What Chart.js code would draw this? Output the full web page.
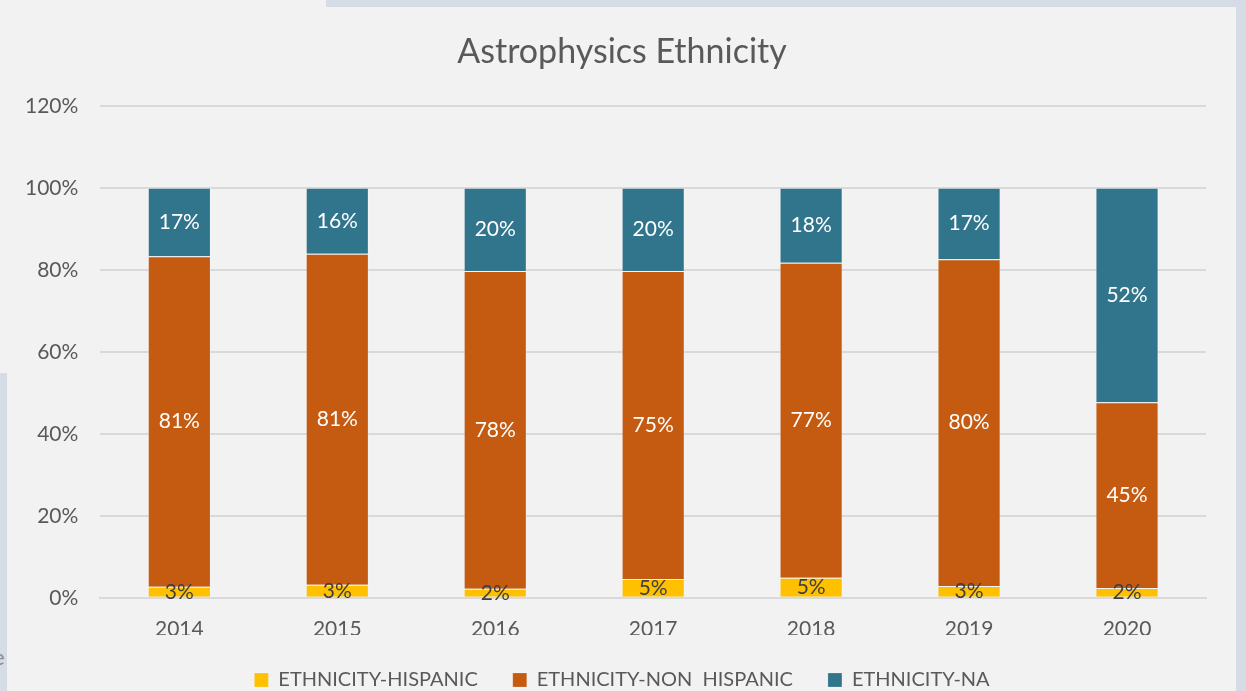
<!DOCTYPE html>
<html>
<head>
<meta charset="utf-8">
<script src="https://cdn.jsdelivr.net/npm/chart.js@4.4.1/dist/chart.umd.min.js"></script>
<style>
  html, body { margin:0; padding:0; background:#f2f2f2; overflow:hidden; }
  .strip { position:absolute; background:#d6dce5; overflow:hidden; }
  #wrap { position:absolute; left:0; top:0; width:1246px; height:700px; }
</style>
</head>
<body>
<div class="strip" style="left:326px;top:0;width:920px;height:7px;"></div>
<div class="strip" style="left:1236px;top:0;width:10px;height:691px;"></div>
<div class="strip" style="left:0;top:373px;width:7px;height:318px;">
  <span style="position:absolute;left:-7px;top:270px;font:22px Lato, sans-serif;color:#8c8c8c;">e</span>
</div>
<div id="wrap"><canvas id="chart" width="1246" height="700"></canvas></div>
<script>
"use strict";
const years       = ["2014", "2015", "2016", "2017", "2018", "2019", "2020"];
const hispanic    = [2.7, 3.2, 2.2, 4.6, 4.9, 2.9, 2.4];
const nonHispanic = [80.6, 80.7, 77.5, 75.1, 76.8, 79.7, 45.3];
const ethnicityNA = [16.7, 16.1, 20.3, 20.3, 18.3, 17.4, 52.3];
const yTicks      = [0, 20, 40, 60, 80, 100, 120];

const FONT = "Lato, 'Open Sans', sans-serif";
const GREY = "#595959";

// draws the value labels in the middle of each segment
const segLabels = {
  id: "segLabels",
  afterDatasetsDraw(chart) {
    const ctx = chart.ctx;
    ctx.save();
    ctx.font = "21px " + FONT;
    ctx.textAlign = "center";
    ctx.textBaseline = "middle";
    chart.data.datasets.forEach((ds, i) => {
      const meta = chart.getDatasetMeta(i);
      meta.data.forEach((bar, j) => {
        const v = ds.data[j];
        ctx.fillStyle = ds.labelColor;
        ctx.fillText(Math.round(v) + "%", bar.x, (bar.y + bar.base) / 2);
      });
    });
    ctx.restore();
  }
};

new Chart(document.getElementById("chart").getContext("2d"), {
  type: "bar",
  data: {
    labels: years,
    datasets: [
      { label:"ETHNICITY-HISPANIC",     data:hispanic,    backgroundColor:"#ffc000", borderColor:"rgba(255,255,255,0.2)", borderWidth:1, labelColor:"#404040" },
      { label:"ETHNICITY-NON  HISPANIC", data:nonHispanic, backgroundColor:"#c55a11", borderColor:"rgba(255,255,255,0.2)", borderWidth:1, labelColor:"#ffffff" },
      { label:"ETHNICITY-NA",           data:ethnicityNA, backgroundColor:"#31758c", borderColor:"rgba(255,255,255,0.2)", borderWidth:1, labelColor:"#ffffff" }
    ]
  },
  options: {
    responsive: false,
    animation: false,
    layout: { padding: { left: 3, right: 5, top: 32, bottom: 0 } },
    datasets: { bar: { barPercentage: 0.4, categoryPercentage: 1.0 } },
    plugins: {
      title: { display:true, text:"Astrophysics Ethnicity", color:GREY, font:{ family:FONT, size:34, weight:"normal" }, padding:{ top:0, bottom:33 } },
      legend: {
        position: "bottom",
        labels: { color:GREY, font:{ family:FONT, size:20 }, boxWidth:14, boxHeight:14, padding:35 }
      },
      tooltip: { enabled:false }
    },
    scales: {
      x: {
        stacked: true,
        grid: { display:false },
        border: { color:"#d9d9d9", width:2 },
        ticks: { color:GREY, font:{ family:FONT, size:21 }, padding:11 },
        afterFit: s => { s.height -= 18; }
      },
      y: {
        stacked: true,
        min: 0, max: 120,
        afterBuildTicks: axis => { axis.ticks = yTicks.map(v => ({ value:v })); },
        grid: { color:"#d9d9d9", lineWidth:2, drawTicks:false },
        border: { display:false },
        ticks: { color:GREY, font:{ family:FONT, size:21 }, padding:22, callback: v => v + "%" }
      },
      // empty right axis, only keeps space on the right of the plot
      yRight: {
        position: "right",
        grid: { display:false },
        border: { display:false },
        ticks: { display:false },
        afterFit: s => { s.width = 35; }
      }
    }
  },
  plugins: [segLabels]
});
</script>
</body>
</html>
